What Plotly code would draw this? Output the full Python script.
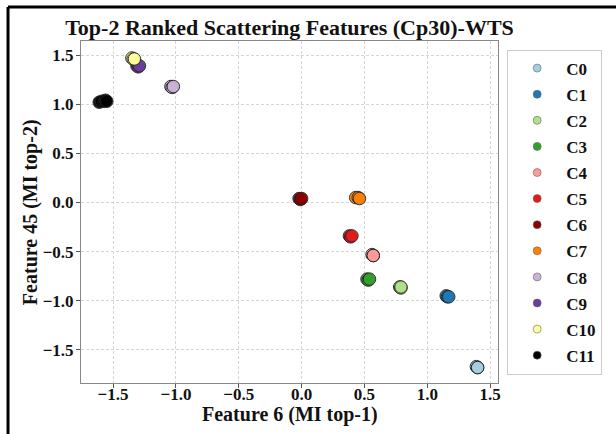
import plotly.graph_objects as go

# Cluster labels and colours
clusters = ["C0", "C1", "C2", "C3", "C4", "C5", "C6", "C7", "C8", "C9", "C10", "C11"]
colors = ["#a6cee3", "#1f78b4", "#b2df8a", "#33a02c", "#fb9a99", "#e31a1c",
          "#8b0000", "#ff7f00", "#cab2d6", "#6a3d9a", "#ffff99", "#000000"]

# Feature 6 (x) and Feature 45 (y) values for the samples of each cluster
feat6 = [
    [1.39, 1.40, 1.40],
    [1.15, 1.16, 1.17],
    [0.78, 0.79, 0.79],
    [0.52, 0.53, 0.54],
    [0.56, 0.57, 0.57],
    [0.38, 0.39, 0.40],
    [-0.02, -0.01, 0.00],
    [0.43, 0.45, 0.46],
    [-1.04, -1.03, -1.02],
    [-1.31, -1.30, -1.29],
    [-1.35, -1.34, -1.33],
    [-1.61, -1.59, -1.57, -1.56, -1.55],
]
feat45 = [
    [-1.67, -1.68, -1.68],
    [-0.95, -0.96, -0.96],
    [-0.86, -0.87, -0.86],
    [-0.78, -0.79, -0.78],
    [-0.53, -0.54, -0.54],
    [-0.34, -0.35, -0.34],
    [0.04, 0.03, 0.04],
    [0.05, 0.05, 0.04],
    [1.18, 1.17, 1.18],
    [1.39, 1.38, 1.39],
    [1.47, 1.46, 1.46],
    [1.02, 1.03, 1.03, 1.04, 1.03],
]

xticks = [-1.5, -1.0, -0.5, 0.0, 0.5, 1.0, 1.5]
yticks = [-1.5, -1.0, -0.5, 0.0, 0.5, 1.0, 1.5]

FONT = "Liberation Serif, Times New Roman, serif"

fig = go.Figure()
for name, col, xs, ys in zip(clusters, colors, feat6, feat45):
    fig.add_trace(go.Scatter(
        x=xs, y=ys, mode="markers", name=name, showlegend=False,
        marker=dict(size=12.5, color=col, opacity=0.9,
                    line=dict(color="#222222", width=1)),
    ))
    # small legend swatch
    fig.add_trace(go.Scatter(
        x=[None], y=[None], mode="markers", name=name, legendgroup=name,
        marker=dict(size=8, color=col, line=dict(color="#666666", width=0.6)),
    ))

axis_common = dict(
    showgrid=True, gridcolor="#d6d6d6", griddash="3px,2px", gridwidth=1,
    zeroline=False, showline=True, linecolor="#888888", linewidth=1, mirror=True,
    ticks="outside", ticklen=4, tickcolor="#555555",
    tickfont=dict(family=FONT, size=17, color="#111111", weight="bold"),
)

fig.update_layout(
    width=616, height=434,
    margin=dict(l=81, r=118, t=41, b=51, autoexpand=False),
    paper_bgcolor="white", plot_bgcolor="white",
    title=dict(text="<b>Top-2 Ranked Scattering Features (Cp30)-WTS</b>",
               font=dict(family=FONT, size=22, color="#111111"),
               x=0.47, xanchor="center", y=0.937, yanchor="middle"),
    xaxis=dict(range=[-1.755, 1.562], tickvals=xticks, ticklabelstandoff=-8,
               ticktext=[f"{v:.1f}".replace("-", "\u2212") for v in xticks],
               **axis_common),
    yaxis=dict(range=[-1.837, 1.643], tickvals=yticks, ticklabelstandoff=-1,
               ticktext=[f"{v:.1f}".replace("-", "\u2212") for v in yticks],
               **axis_common),
    annotations=[
        dict(text="<b>Feature 6 (MI top-1)</b>", xref="paper", yref="paper",
             x=0.5, y=-0.093, xanchor="center", yanchor="middle", showarrow=False,
             font=dict(family=FONT, size=20, color="#111111")),
        dict(text="<b>Feature 45 (MI top-2)</b>", xref="paper", yref="paper",
             x=-0.122, y=0.5, xanchor="center", yanchor="middle", textangle=-90,
             showarrow=False, font=dict(family=FONT, size=20, color="#111111")),
    ],
    legend=dict(x=1.022, y=0.975, xanchor="left", yanchor="top",
                bordercolor="#cccccc", borderwidth=1, bgcolor="white",
                font=dict(family=FONT, size=17, color="#111111", weight="bold"),
                itemwidth=48, tracegroupgap=1),
    shapes=[
        dict(type="line", xref="paper", yref="paper",
             x0=-0.175, x1=-0.175, y0=-0.2, y1=1.0994,
             line=dict(color="black", width=3)),
        dict(type="line", xref="paper", yref="paper",
             x0=-0.175, x1=1.3, y0=1.0994, y1=1.0994,
             line=dict(color="black", width=3)),
    ],
)

fig.write_html("out.html")
